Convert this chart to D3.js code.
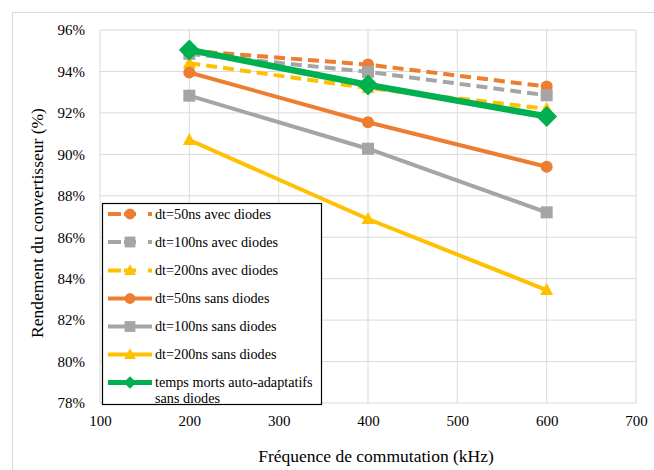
<!DOCTYPE html>
<html><head><meta charset="utf-8">
<script src="https://cdn.jsdelivr.net/npm/d3@7"></script>
<style>body{margin:0;background:#fff}svg{display:block}</style>
</head><body>
<svg id="c" width="654" height="470" style="font-family:'Liberation Serif',serif"></svg>
<script>
const frequencies = [200, 400, 600];
const xTicks = [100, 200, 300, 400, 500, 600, 700];
const yTicks = [78, 80, 82, 84, 86, 88, 90, 92, 94, 96];
const seriesNames = [
  "dt=50ns avec diodes", "dt=100ns avec diodes", "dt=200ns avec diodes",
  "dt=50ns sans diodes", "dt=100ns sans diodes", "dt=200ns sans diodes",
  "temps morts auto-adaptatifs sans diodes"
];
const dt50Avec = [95.0, 94.33, 93.27];
const dt100Avec = [94.85, 93.98, 92.85];
const dt200Avec = [94.4, 93.2, 92.2];
const dt50Sans = [93.95, 91.55, 89.4];
const dt100Sans = [92.83, 90.27, 87.2];
const dt200Sans = [90.69, 86.88, 83.45];
const autoAdapt = [95.04, 93.35, 91.83];

const styles = [
  {color:"#ED7D31", dash:true, marker:"circle", w:4},
  {color:"#A5A5A5", dash:true, marker:"square", w:4},
  {color:"#FFC000", dash:true, marker:"triangle", w:4},
  {color:"#ED7D31", dash:false, marker:"circle", w:4},
  {color:"#A5A5A5", dash:false, marker:"square", w:4},
  {color:"#FFC000", dash:false, marker:"triangle", w:4},
  {color:"#00B050", dash:false, marker:"diamond", w:6.5}
];
const values = [dt50Avec, dt100Avec, dt200Avec, dt50Sans, dt100Sans, dt200Sans, autoAdapt];

const FONT = "'Liberation Serif', serif";
const svg = d3.select("#c");
const L = 100, R = 636, T = 30, B = 403;
const x = d3.scaleLinear().domain([100, 700]).range([L, R]);
const y = d3.scaleLinear().domain([78, 96]).range([B, T]);

svg.append("rect").attr("x",12.5).attr("y",12.5).attr("width",660).attr("height",480)
  .attr("fill","none").attr("stroke","#d9d9d9").attr("stroke-width",1);

svg.append("g").selectAll("line").data(yTicks).join("line")
  .attr("x1",L).attr("x2",R).attr("y1",d=>y(d)).attr("y2",d=>y(d))
  .attr("stroke","#d9d9d9").attr("stroke-width",1);
svg.append("g").selectAll("line").data(xTicks).join("line")
  .attr("y1",T).attr("y2",B).attr("x1",d=>x(d)).attr("x2",d=>x(d))
  .attr("stroke","#d9d9d9").attr("stroke-width",1);

const ax = d3.axisBottom(x).tickValues(xTicks).tickSize(0).tickPadding(12);
const gx = svg.append("g").attr("transform",`translate(0,${B})`).call(ax);
gx.select(".domain").remove();
gx.selectAll("text").style("font-family",FONT).style("font-size","15px").attr("fill","#000");
const ay = d3.axisLeft(y).tickValues(yTicks).tickSize(0).tickPadding(15).tickFormat(d=>d+"%");
const gy = svg.append("g").attr("transform",`translate(${L},0)`).call(ay);
gy.select(".domain").remove();
gy.selectAll("text").style("font-family",FONT).style("font-size","15px").attr("fill","#000");

svg.append("text").attr("x",376).attr("y",462).attr("text-anchor","middle")
  .style("font-family",FONT).style("font-size","17.5px").text("Fréquence de commutation (kHz)");
svg.append("text").attr("transform","translate(43,223) rotate(-90)").attr("text-anchor","middle")
  .style("font-family",FONT).style("font-size","17.5px").text("Rendement du convertisseur (%)");

function drawMarker(g, type, cx, cy, color, scale){
  const s = scale || 1;
  if(type==="circle") g.append("circle").attr("cx",cx).attr("cy",cy).attr("r",6*s).attr("fill",color);
  else if(type==="square") g.append("rect").attr("x",cx-6*s).attr("y",cy-6*s).attr("width",12*s).attr("height",12*s).attr("fill",color);
  else if(type==="triangle") g.append("path").attr("d",`M${cx},${cy-7*s}L${cx+6.5*s},${cy+5*s}L${cx-6.5*s},${cy+5*s}Z`).attr("fill",color);
  else if(type==="diamond") g.append("path").attr("d",`M${cx},${cy-10.5*s}L${cx+10.5*s},${cy}L${cx},${cy+10.5*s}L${cx-10.5*s},${cy}Z`).attr("fill",color);
}

const line = d3.line().x((d,i)=>x(frequencies[i])).y(d=>y(d));
values.forEach((vals,k)=>{
  const st = styles[k];
  const g = svg.append("g");
  g.append("path").attr("d",line(vals)).attr("fill","none").attr("stroke",st.color)
    .attr("stroke-width",st.w).attr("stroke-linejoin","round")
    .attr("stroke-dasharray",st.dash?"11,6":null);
  vals.forEach((v,i)=>drawMarker(g, st.marker, x(frequencies[i]), y(v), st.color));
});

const lg = svg.append("g");
lg.append("rect").attr("x",102.5).attr("y",203.5).attr("width",219).attr("height",201)
  .attr("fill","#fff").attr("stroke","#000").attr("stroke-width",1.2);
const rowY = [214, 242, 270.5, 298.5, 326.5, 354.5, 382.5];
seriesNames.forEach((name,k)=>{
  const st = styles[k], yy = rowY[k];
  if(st.dash){
    lg.append("line").attr("x1",108).attr("x2",121).attr("y1",yy).attr("y2",yy).attr("stroke",st.color).attr("stroke-width",st.w);
    lg.append("line").attr("x1",124).attr("x2",136).attr("y1",yy).attr("y2",yy).attr("stroke",st.color).attr("stroke-width",st.w);
    lg.append("line").attr("x1",148).attr("x2",152).attr("y1",yy).attr("y2",yy).attr("stroke",st.color).attr("stroke-width",st.w);
  } else {
    lg.append("line").attr("x1",108).attr("x2",152).attr("y1",yy).attr("y2",yy).attr("stroke",st.color).attr("stroke-width",k===6?5:st.w);
  }
  drawMarker(lg, st.marker, 130, yy, st.color, k===6?0.6:0.9);
  const lines = k===6 ? ["temps morts auto-adaptatifs","sans diodes"] : [name];
  lines.forEach((t,j)=>{
    lg.append("text").attr("x",155).attr("y",yy+4.5+j*16)
      .style("font-family",FONT).style("font-size","14.2px").attr("fill","#000").text(t);
  });
});
</script>
</body></html>
